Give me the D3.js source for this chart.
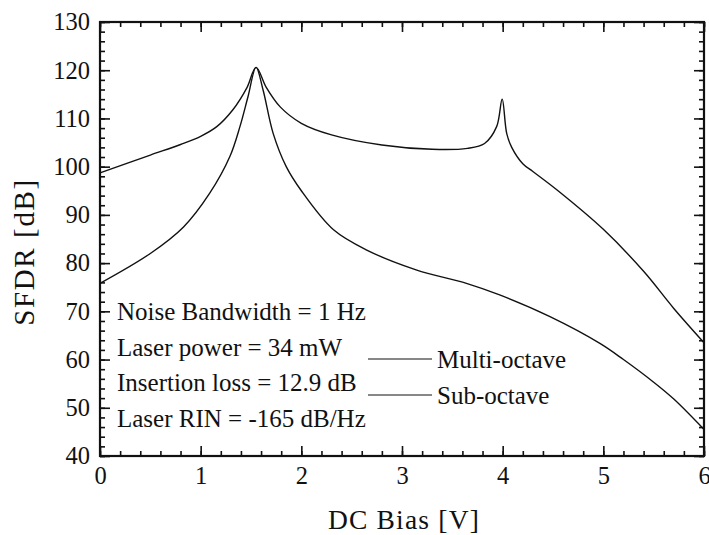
<!DOCTYPE html>
<html><head><meta charset="utf-8">
<script src="https://cdn.jsdelivr.net/npm/d3@7/dist/d3.min.js"></script>
<style>
html,body{margin:0;padding:0;background:#fff;overflow:hidden}
text{font-family:"Liberation Serif","Times New Roman",serif;fill:#111}
</style></head>
<body><svg id="c" width="709" height="535"></svg>
<script>
// Sub-octave (upper curve)
const subX = [0, 0.5, 0.8, 1.0, 1.16, 1.32, 1.46, 1.55, 1.65, 1.79, 2.0, 2.3, 2.8, 3.3, 3.65, 3.82, 3.94, 3.995, 4.04, 4.09, 4.2, 4.3, 4.55, 5.0, 5.4, 5.7, 6.0];
const subY = [98.7, 102.4, 104.6, 106.3, 108.3, 111.8, 116.4, 120.6, 116.5, 112.4, 109.0, 106.6, 104.5, 103.6, 103.8, 104.8, 108.3, 114.0, 106.9, 104.0, 100.6, 99.0, 95.0, 87.0, 78.3, 70.6, 63.5];
// Multi-octave (lower curve)
const multiX = [0, 0.5, 0.83, 1.09, 1.29, 1.39, 1.47, 1.55, 1.62, 1.72, 1.85, 2.0, 2.32, 2.65, 3.14, 3.64, 3.97, 4.47, 4.97, 5.2, 5.5, 5.7, 6.0];
const multiY = [75.8, 82.0, 87.5, 94.5, 102.1, 108.3, 114.5, 120.6, 115.9, 106.9, 100.0, 95.0, 86.9, 82.7, 78.6, 75.8, 73.4, 68.9, 63.3, 60.0, 55.3, 51.8, 45.5];
const xTicks = [0, 1, 2, 3, 4, 5, 6];
const yTicks = [40, 50, 60, 70, 80, 90, 100, 110, 120, 130];
const notes = ["Noise Bandwidth = 1 Hz", "Laser power = 34 mW", "Insertion loss = 12.9 dB", "Laser RIN = -165 dB/Hz"];
const legendNames = ["Multi-octave", "Sub-octave"];

const svg = d3.select("#c");
const L = 100, R = 704, T = 22, B = 456;
const x = d3.scaleLinear().domain([0, 6]).range([L, R]);
const y = d3.scaleLinear().domain([40, 130]).range([B, T]);

const fs = 24.5;
function styleAxis(g){ g.select(".domain").remove(); g.selectAll("line").attr("stroke","#111").attr("stroke-width",1.6); g.attr("font-family",null); }
const xMinor = d3.range(0, 6.0001, 0.2);
const yMinor = d3.range(40, 130.0001, 2);
// bottom
svg.append("g").attr("transform",`translate(0,${B})`).call(d3.axisBottom(x).tickValues(xMinor).tickSize(-5).tickFormat("")).call(styleAxis);
svg.append("g").attr("transform",`translate(0,${B})`).call(d3.axisBottom(x).tickValues(xTicks).tickSize(-10).tickPadding(11).tickFormat(d3.format("d"))).call(styleAxis)
  .selectAll("text").attr("font-size",fs).attr("fill","#111");
// top
svg.append("g").attr("transform",`translate(0,${T})`).call(d3.axisTop(x).tickValues(xMinor).tickSize(-5).tickFormat("")).call(styleAxis);
svg.append("g").attr("transform",`translate(0,${T})`).call(d3.axisTop(x).tickValues(xTicks).tickSize(-10).tickFormat("")).call(styleAxis);
// left
svg.append("g").attr("transform",`translate(${L},0)`).call(d3.axisLeft(y).tickValues(yMinor).tickSize(-5).tickFormat("")).call(styleAxis);
svg.append("g").attr("transform",`translate(${L},0)`).call(d3.axisLeft(y).tickValues(yTicks).tickSize(-10).tickPadding(10).tickFormat(d3.format("d"))).call(styleAxis)
  .selectAll("text").attr("font-size",fs).attr("fill","#111");
// right
svg.append("g").attr("transform",`translate(${R},0)`).call(d3.axisRight(y).tickValues(yMinor).tickSize(-5).tickFormat("")).call(styleAxis);
svg.append("g").attr("transform",`translate(${R},0)`).call(d3.axisRight(y).tickValues(yTicks).tickSize(-10).tickFormat("")).call(styleAxis);
// frame
svg.append("rect").attr("x",L).attr("y",T).attr("width",R-L).attr("height",B-T).attr("fill","none").attr("stroke","#111").attr("stroke-width",2.2);

// curves
const line = d3.line().x(d=>x(d[0])).y(d=>y(d[1])).curve(d3.curveCatmullRom.alpha(0.5));
svg.append("path").datum(subX.map((v,i)=>[v,subY[i]])).attr("d",line).attr("fill","none").attr("stroke","#111").attr("stroke-width",1.4);
svg.append("path").datum(multiX.map((v,i)=>[v,multiY[i]])).attr("d",line).attr("fill","none").attr("stroke","#111").attr("stroke-width",1.4);

// notes
svg.selectAll("text.note").data(notes).enter().append("text").attr("class","note")
  .attr("x",117).attr("y",(d,i)=>320+i*35.5).attr("font-size",25).text(d=>d);

// legend
const lg = svg.append("g");
legendNames.forEach((n,i)=>{
  const ly = 359 + i*36;
  lg.append("line").attr("x1",368).attr("x2",432).attr("y1",ly).attr("y2",ly).attr("stroke","#111").attr("stroke-width",1.2);
  lg.append("text").attr("x",437).attr("y",ly+9.3).attr("font-size",25).text(n);
});

// axis titles
svg.append("text").attr("x",(L+R)/2+2).attr("y",529).attr("text-anchor","middle").attr("font-size",27.5).attr("letter-spacing",1.2).text("DC Bias [V]");
svg.append("text").attr("transform","translate(34,252) rotate(-90)").attr("text-anchor","middle").attr("font-size",29).attr("letter-spacing",1.6).text("SFDR [dB]");
</script></body></html>
